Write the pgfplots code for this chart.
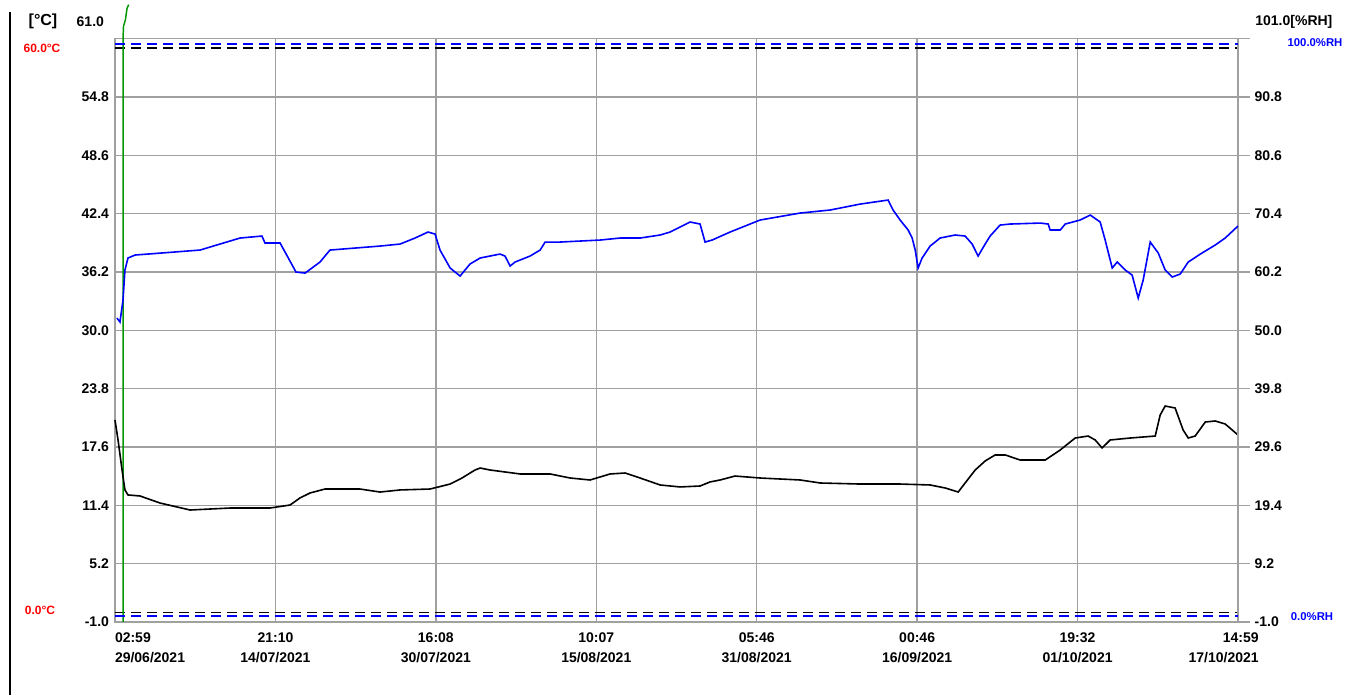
\documentclass[border=0pt]{standalone}
\usepackage{pgfplots}
\pgfplotsset{compat=1.18}
\usepackage{fontspec}
\setmainfont{Liberation Sans}
\definecolor{gridgray}{RGB}{160,160,160}
\definecolor{dgreen}{RGB}{0,150,0}
\definecolor{lblred}{RGB}{255,0,0}
\definecolor{lblblue}{RGB}{0,0,255}
\newcommand{\tl}[2]{\begin{tabular}{@{}c@{}}#1\\#2\end{tabular}}
\begin{document}
\begin{tikzpicture}
\useasboundingbox (0,0) rectangle (1009.5pt,521.25pt);
\renewcommand{\arraystretch}{1.25}
\begin{axis}[
  at={(86.25pt,54.75pt)}, anchor=south west,
  width=842.25pt, height=437.6pt, scale only axis,
  xmin=0, xmax=7, ymin=-1, ymax=61,
  xtick={0,1,2,3,4,5,6,7},
  xticklabels={
    {\makebox[0pt][l]{\begin{tabular}{@{}l@{}}02:59\\29/06/2021\end{tabular}}},
    {\tl{21:10}{14/07/2021}},
    {\tl{16:08}{30/07/2021}},
    {\tl{10:07}{15/08/2021}},
    {\tl{05:46}{31/08/2021}},
    {\tl{00:46}{16/09/2021}},
    {\tl{19:32}{01/10/2021}},
    {\makebox[0pt][r]{\begin{tabular}{@{}r@{}}14:59\\17/10/2021\end{tabular}\hspace*{-15.5pt}}}},
  ytick={-1,5.2,11.4,17.6,23.8,30,36.2,42.4,48.6,54.8,61},
  yticklabels={-1.0,5.2,11.4,17.6,23.8,30.0,36.2,42.4,48.6,54.8,},
  grid=major,
  major grid style={gridgray, line width=1pt},
  axis line style={gridgray, line width=1pt},
  major tick length=0pt,
  xticklabel style={font=\fontsize{10.5}{12}\selectfont\bfseries, yshift=-1pt},
  yticklabel style={font=\fontsize{10.5}{12}\selectfont\bfseries, xshift=-1pt},
  clip=false,
]
% alarm limits temperature
\addplot[black, line width=1.3pt, dash pattern=on 7.5pt off 4.5pt] coordinates {(0,60) (7,60)};
\addplot[black, line width=1.3pt, dash pattern=on 7.5pt off 4.5pt] coordinates {(0,0) (7,0)};
% green channel
\addplot[dgreen, line width=1.1pt] coordinates {(0.05,-1) (0.05,61) (0.053,62.3) (0.065,63.0) (0.075,64.2) (0.085,64.6)};
% temperature
\addplot[black, line width=1.2pt] coordinates {
(0.000,20.46) (0.019,18.34) (0.044,15.15) (0.062,13.03) (0.081,12.50) (0.156,12.39)
(0.281,11.64) (0.468,10.90) (0.717,11.11) (0.966,11.11) (1.091,11.43) (1.153,12.18)
(1.216,12.71) (1.309,13.13) (1.527,13.13) (1.652,12.81) (1.777,13.03) (1.964,13.13)
(2.089,13.66) (2.163,14.30) (2.244,15.15) (2.276,15.36) (2.338,15.15) (2.525,14.73)
(2.712,14.73) (2.837,14.30) (2.961,14.09) (3.086,14.73) (3.180,14.83) (3.273,14.30)
(3.398,13.56) (3.522,13.35) (3.647,13.45) (3.709,13.88) (3.772,14.09) (3.865,14.51)
(4.021,14.30) (4.271,14.09) (4.396,13.77) (4.645,13.66) (4.894,13.66) (5.081,13.56)
(5.175,13.24) (5.256,12.81) (5.299,13.77) (5.362,15.15) (5.424,16.11) (5.486,16.75)
(5.549,16.75) (5.642,16.21) (5.798,16.21) (5.892,17.28) (5.985,18.55) (6.066,18.76)
(6.110,18.34) (6.153,17.49) (6.203,18.34) (6.328,18.55) (6.484,18.76) (6.515,21.00)
(6.546,21.95) (6.608,21.74) (6.658,19.40) (6.690,18.55) (6.733,18.76) (6.796,20.25)
(6.858,20.36) (6.920,20.04) (6.964,19.40) (7.000,18.87)
};
\end{axis}
\begin{axis}[
  at={(86.25pt,54.75pt)}, anchor=south west,
  width=842.25pt, height=437.6pt, scale only axis,
  xmin=0, xmax=7, ymin=-1, ymax=101,
  axis x line=none,
  axis y line*=right,
  ytick={-1,9.2,19.4,29.6,39.8,50,60.2,70.4,80.6,90.8,101},
  yticklabels={-1.0,9.2,19.4,29.6,39.8,50.0,60.2,70.4,80.6,90.8,},
  axis line style={gridgray, line width=1pt, -},
  tick style={gridgray, line width=1pt},
  major tick length=9pt,
  tick align=outside,
  yticklabel style={font=\fontsize{10.5}{12}\selectfont\bfseries, xshift=0pt},
]
\addplot[lblblue, line width=1.3pt, dash pattern=on 7.5pt off 4.5pt] coordinates {(0,100) (7,100)};
\addplot[lblblue, line width=1.3pt, dash pattern=on 7.5pt off 4.5pt] coordinates {(0,0) (7,0)};
\addplot[lblblue, line width=1.2pt] coordinates {
(0.012,52.14) (0.031,51.44) (0.050,55.28) (0.062,60.53) (0.081,62.63) (0.125,63.15)
(0.530,64.02) (0.779,66.12) (0.916,66.47) (0.935,65.25) (1.029,65.25) (1.060,63.67)
(1.128,60.18) (1.185,60.00) (1.278,61.93) (1.340,64.02) (1.652,64.72) (1.777,65.07)
(1.870,66.12) (1.951,67.17) (1.995,66.82) (2.026,64.02) (2.089,60.88) (2.151,59.48)
(2.213,61.58) (2.276,62.63) (2.400,63.32) (2.431,62.97) (2.463,61.23) (2.494,61.93)
(2.587,62.97) (2.650,64.02) (2.681,65.42) (2.774,65.42) (3.024,65.77) (3.148,66.12)
(3.273,66.12) (3.398,66.65) (3.460,67.17) (3.522,68.04) (3.585,68.92) (3.647,68.57)
(3.678,65.42) (3.722,65.77) (3.834,67.17) (4.021,69.27) (4.271,70.49) (4.458,71.02)
(4.645,72.06) (4.819,72.76) (4.850,71.02) (4.894,69.27) (4.944,67.52) (4.969,66.12)
(4.988,64.02) (5.006,60.88) (5.031,62.63) (5.081,64.72) (5.143,66.12) (5.237,66.65)
(5.299,66.47) (5.343,65.07) (5.380,62.97) (5.424,65.07) (5.455,66.47) (5.517,68.39)
(5.580,68.57) (5.767,68.74) (5.817,68.57) (5.829,67.52) (5.892,67.52) (5.923,68.57)
(6.016,69.27) (6.079,70.14) (6.141,68.92) (6.172,65.77) (6.216,60.88) (6.247,61.93)
(6.297,60.53) (6.340,59.65) (6.378,55.63) (6.409,58.78) (6.453,65.42) (6.503,63.50)
(6.546,60.53) (6.590,59.30) (6.640,59.83) (6.690,61.93) (6.765,63.32) (6.858,64.90)
(6.920,66.12) (7.000,68.22)
};
\end{axis}
% window frame line
\draw[black, line width=1.5pt] (7.5pt,0) -- (7.5pt,512.25pt);
% header labels
\node[font=\fontsize{12}{14}\selectfont\bfseries] at (32.25pt,505.5pt) {[°C]};
\node[font=\fontsize{10.5}{12}\selectfont\bfseries, anchor=east] at (81.5pt,504.75pt) {61.0};
\node[font=\fontsize{10.5}{12}\selectfont\bfseries, anchor=west] at (938pt,504.75pt) {101.0[\%RH]};
% alarm labels
\node[font=\fontsize{9}{10}\selectfont\bfseries, text=lblred] at (31.5pt,485.25pt) {60.0°C};
\node[font=\fontsize{9}{10}\selectfont\bfseries, text=lblred] at (30pt,63.75pt) {0.0°C};
\node[font=\fontsize{8.5}{10}\selectfont\bfseries, text=lblblue, anchor=east, inner sep=1pt] at (1008pt,489pt) {100.0\%RH};
\node[font=\fontsize{8.5}{10}\selectfont\bfseries, text=lblblue, anchor=west, inner sep=1pt] at (967pt,58.5pt) {0.0\%RH};
\end{tikzpicture}
\end{document}
